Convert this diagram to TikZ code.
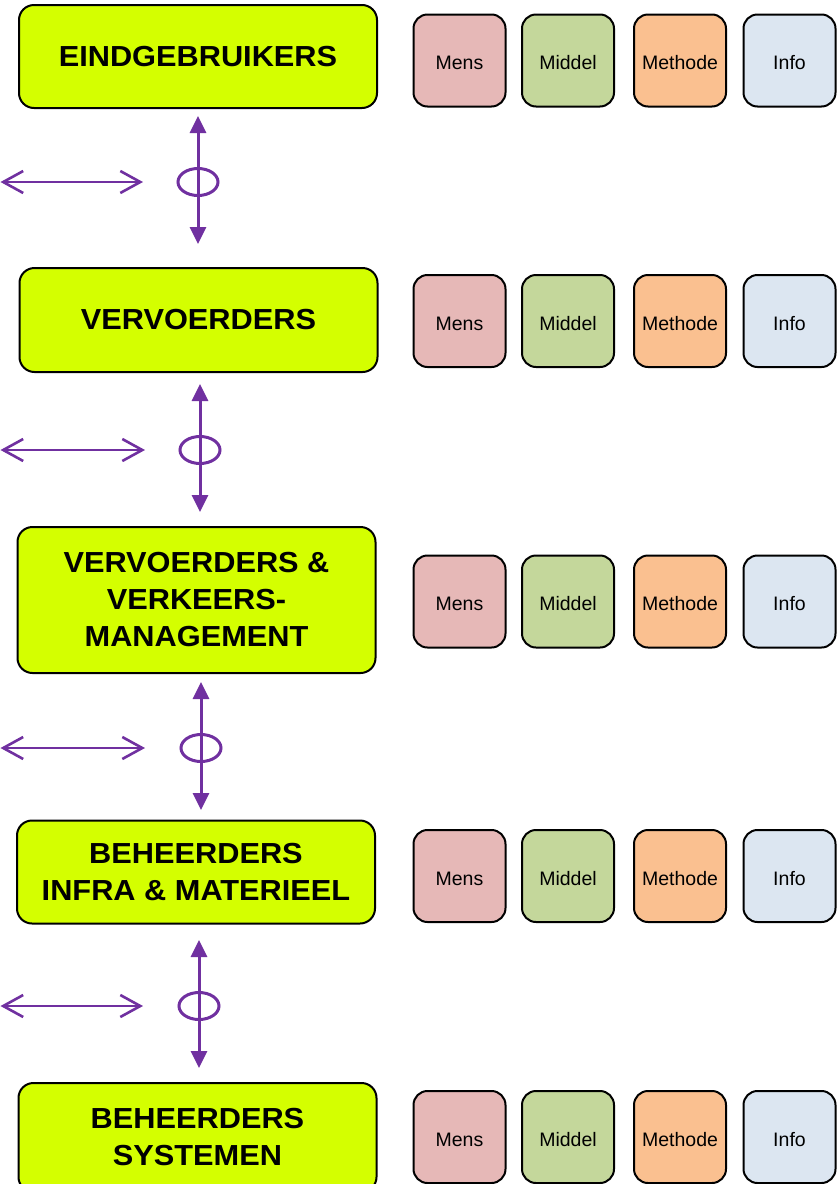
\documentclass[tikz,border=0pt]{standalone}
\usepackage{fontspec}
\setmainfont{Liberation Sans}
\newfontfamily\bigfont{Liberation Sans}[FakeStretch=1.06]
\usetikzlibrary{arrows.meta,shapes.geometric}
\definecolor{lime}{RGB}{212,255,0}
\definecolor{mens}{RGB}{230,184,183}
\definecolor{middel}{RGB}{196,215,155}
\definecolor{methode}{RGB}{250,192,144}
\definecolor{info}{RGB}{220,230,241}
\definecolor{purp}{RGB}{112,48,160}
\begin{document}
\begin{tikzpicture}[x=1pt,y=-1pt,
  bigbox/.style={draw=black,line width=2pt,fill=lime,rounded corners=15pt,
    minimum width=358pt,align=center,inner sep=0pt,
    font=\bigfont\fontsize{29}{37}\selectfont\bfseries},
  smallbox/.style={draw=black,line width=2pt,rounded corners=14pt,
    minimum width=92pt,minimum height=92pt,inner sep=0pt,
    text height=18pt,text depth=0pt,
    font=\fontsize{19.5}{23}\selectfont},
  ring/.style={draw=purp,line width=3pt,ellipse,minimum width=40pt,minimum height=27pt,inner sep=0pt},
  vlink/.style={draw=purp,line width=3pt,{Triangle[length=17pt,width=16pt]}-{Triangle[length=17pt,width=16pt]}},
  hlink/.style={draw=purp,line width=2.6pt,{Straight Barb[length=20pt,width=22pt]}-{Straight Barb[length=20pt,width=22pt]}}
]
\useasboundingbox (0,0) rectangle (837,1184);
\node[bigbox,minimum height=103pt] (b1) at (198,56.5) {EINDGEBRUIKERS};
\node[bigbox,minimum height=104pt] (b2) at (198.5,320) {VERVOERDERS};
\node[bigbox,minimum height=146pt] (b3) at (196.5,600) {VERVOERDERS \&\\VERKEERS-\\MANAGEMENT};
\node[bigbox,minimum height=103pt] (b4) at (196,872) {BEHEERDERS\\INFRA \& MATERIEEL};
\node[bigbox,minimum height=109pt] (b5) at (197.5,1137.5) {BEHEERDERS\\SYSTEMEN};
\foreach \r/\y in {1/60.5,2/321,3/601.5,4/876,5/1137}{
  \node[smallbox,fill=mens] (mens\r) at (459.5,\y) {Mens};
  \node[smallbox,fill=middel] (middel\r) at (568,\y) {Middel};
  \node[smallbox,fill=methode] (methode\r) at (680,\y) {Methode};
  \node[smallbox,fill=info] (info\r) at (789.5,\y) {Info};
}
\foreach \i/\x/\ya/\yb/\ym/\xr in {1/198/116/244/182/143,2/200/384/512/450/145,3/201/682/810/748/145,4/199/940/1068/1006/143}{
  \coordinate (vt\i) at (\x,\ya);
  \coordinate (vb\i) at (\x,\yb);
  \coordinate (hl\i) at (0.5,\ym);
  \coordinate (hr\i) at (\xr,\ym);
  \node[ring] (ring\i) at (\x,\ym) {};
  \draw[vlink] (vt\i) -- (vb\i);
  \draw[hlink] (hl\i) -- (hr\i);
}
\end{tikzpicture}
\end{document}
